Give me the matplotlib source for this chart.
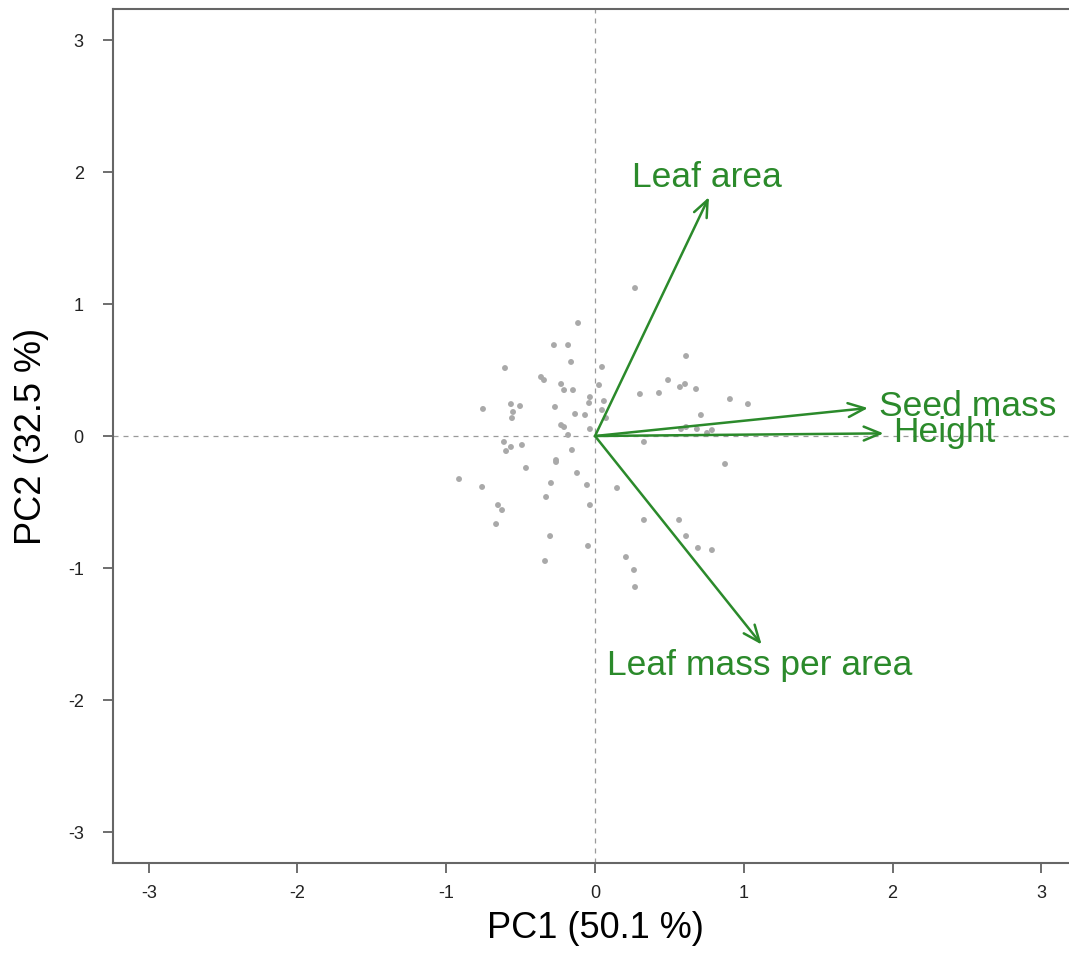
import numpy as np
import matplotlib.pyplot as plt

plt.rcParams['font.family'] = ['Liberation Sans', 'DejaVu Sans']
plt.rcParams['axes.unicode_minus'] = False

# PCA scores (individual species)
pc1 = [-0.114, -0.276, -0.181, -0.161, 0.047, -0.605, -0.363, -0.343, -0.228, -0.208,
       -0.148, 0.027, -0.034, -0.040, 0.060, -0.753, -0.565, -0.504, -0.551, -0.558,
       -0.269, -0.134, -0.067, 0.047, 0.074, -0.228, -0.208, -0.034, -0.181, -0.612,
       -0.565, -0.598, -0.491, -0.155, -0.262, -0.262, -0.464, -0.121, -0.914, -0.759,
       -0.296, -0.054, 0.148, -0.329, -0.034, -0.652, -0.625, -0.665, -0.302, -0.047,
       -0.336, 0.269, 0.612, 0.491, 0.571, 0.605, 0.679, 0.302, 0.430, 0.907,
       1.028, 0.712, 0.578, 0.612, 0.685, 0.753, 0.786, 0.329, 0.874, 0.329,
       0.565, 0.612, 0.692, 0.786, 0.208, 0.262, 0.269]
pc2 = [0.856, 0.689, 0.689, 0.561, 0.523, 0.515, 0.447, 0.424, 0.394, 0.348,
       0.348, 0.386, 0.295, 0.250, 0.265, 0.205, 0.242, 0.227, 0.182, 0.136,
       0.220, 0.167, 0.159, 0.197, 0.136, 0.083, 0.068, 0.053, 0.008, -0.045,
       -0.083, -0.114, -0.068, -0.106, -0.182, -0.197, -0.242, -0.280, -0.326, -0.386,
       -0.356, -0.371, -0.394, -0.462, -0.523, -0.523, -0.561, -0.667, -0.758, -0.833,
       -0.947, 1.121, 0.606, 0.424, 0.371, 0.394, 0.356, 0.318, 0.326, 0.280,
       0.242, 0.159, 0.053, 0.068, 0.053, 0.023, 0.045, -0.045, -0.212, -0.636,
       -0.636, -0.758, -0.848, -0.864, -0.917, -1.015, -1.144]

# trait loadings
traits = ['Leaf area', 'Seed mass', 'Height', 'Leaf mass per area']
load_x = [0.766, 1.835, 1.94, 1.12]
load_y = [1.81, 0.212, 0.02, -1.58]
label_x = [0.753, 2.507, 2.35, 1.11]
label_y = [1.955, 0.227, 0.03, -1.735]

green = '#2b8a2b'

fig = plt.figure(figsize=(10.69, 9.57), dpi=100)
ax = fig.add_axes([0.1057, 0.0982, 0.9018, 0.8924])

ax.axhline(0, color='#9a9a9a', lw=0.9, ls=(0, (4, 4)), zorder=1)
ax.axvline(0, color='#9a9a9a', lw=0.9, ls=(0, (4, 4)), zorder=1)

ax.scatter(pc1, pc2, s=18, color='#a9a9a9', edgecolors='none', zorder=2)

for name, lx, ly, tx, ty in zip(traits, load_x, load_y, label_x, label_y):
    ax.annotate('', xy=(lx, ly), xytext=(0, 0),
                arrowprops=dict(arrowstyle='->, head_length=0.6, head_width=0.25',
                                color=green, lw=1.8, shrinkA=0, shrinkB=0,
                                mutation_scale=20), zorder=3)
    ax.text(tx, ty, name, color=green, fontsize=25.5, ha='center', va='center', zorder=4)

ax.set_xlim(-3.24, 3.24)
ax.set_ylim(-3.235, 3.235)
ax.set_xticks(range(-3, 4))
ax.set_yticks(range(-3, 4))
ax.set_xticklabels([str(v) for v in range(-3, 4)])
ax.set_yticklabels([str(v) for v in range(-3, 4)])
ax.tick_params(length=7, width=1.2, color='#555555', labelsize=13, labelcolor='#222222')
ax.tick_params(axis='x', pad=9)
ax.tick_params(axis='y', pad=14)

for side in ['left', 'bottom', 'top']:
    ax.spines[side].set_color('#666666')
    ax.spines[side].set_linewidth(1.5)
ax.spines['right'].set_visible(False)

ax.set_xlabel('PC1 (50.1 %)', fontsize=26, labelpad=6)
ax.set_ylabel('PC2 (32.5 %)', fontsize=26, labelpad=14)

fig.savefig('out.png', dpi=100)
